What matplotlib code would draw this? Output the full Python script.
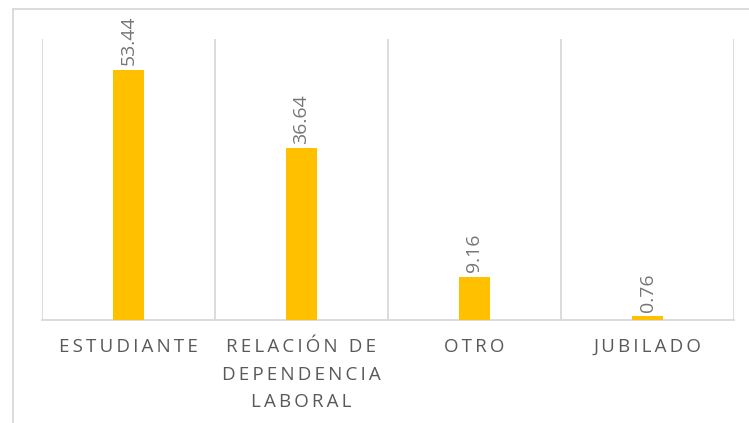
import matplotlib.pyplot as plt
from matplotlib.lines import Line2D

CATEGORIES = ["ESTUDIANTE", "RELACIÓN DE\nDEPENDENCIA\nLABORAL", "OTRO", "JUBILADO"]
VALUES = [53.44, 36.64, 9.16, 0.76]

BAR_COLOR = "#FFC000"
GRID_COLOR = "#D9D9D9"
TEXT_COLOR = "#595959"
FONT = ["Open Sans", "DejaVu Sans"]


def tracked(text, gap="\u2009"):
    # spread the letters out a little, keep words apart
    lines = []
    for line in text.split("\n"):
        words = [gap.join(word) for word in line.split(" ")]
        lines.append((gap + " " + gap).join(words))
    return "\n".join(lines)


fig = plt.figure(figsize=(7.49, 4.23), dpi=100)
ax = fig.add_axes([42 / 749, 1 - 320 / 423, (734 - 42) / 749, (320 - 39) / 423])

positions = list(range(len(CATEGORIES)))
ax.bar(positions, VALUES, width=0.18, color=BAR_COLOR, zorder=3)

ax.set_xlim(-0.5, len(CATEGORIES) - 0.5)
ax.set_ylim(0, 60)

# category separators
for x in [p - 0.5 for p in positions] + [len(CATEGORIES) - 0.5]:
    ax.axvline(x, color=GRID_COLOR, linewidth=1.3, zorder=1)

for side in ("top", "right", "left"):
    ax.spines[side].set_visible(False)
ax.spines["bottom"].set_color(GRID_COLOR)
ax.spines["bottom"].set_linewidth(1.3)
ax.set_yticks([])
ax.set_xticks(positions, labels=[tracked(c) for c in CATEGORIES])
ax.tick_params(axis="x", length=0, pad=13, labelsize=13.5, labelcolor=TEXT_COLOR)
for label in ax.get_xticklabels():
    label.set_family(FONT)
    label.set_linespacing(1.68)

# value labels above the bars
for pos, value in zip(positions, VALUES):
    ax.annotate(f"{value:.2f}", (pos, value), xytext=(0, 3.5), textcoords="offset points",
                rotation=90, ha="center", va="bottom", color="#767676",
                fontsize=14, family=FONT)

# outer chart frame
for xs, ys in (([13 / 749, 1.0], [1 - 9 / 423] * 2), ([13 / 749] * 2, [0.0, 1 - 9 / 423])):
    fig.add_artist(Line2D(xs, ys, transform=fig.transFigure, color=GRID_COLOR, linewidth=1.3))

fig.savefig("out.png", dpi=100)
